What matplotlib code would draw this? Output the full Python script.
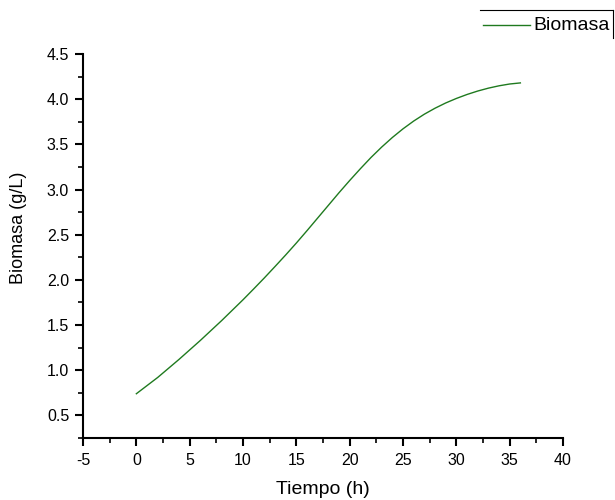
import matplotlib
matplotlib.use("Agg")
import matplotlib.pyplot as plt
from matplotlib.ticker import MultipleLocator
from matplotlib.lines import Line2D

plt.rcParams['font.family'] = ['Liberation Sans', 'DejaVu Sans']

tiempo = [0, 1, 2, 3, 4, 5, 6, 7, 8, 9, 10, 11, 12, 13, 14, 15, 16, 17, 18,
          19, 20, 21, 22, 23, 24, 25, 26, 27, 28, 29, 30, 31, 32, 33, 34, 35, 36]
biomasa = [0.740, 0.830, 0.920, 1.020, 1.120, 1.225, 1.330, 1.440, 1.550,
           1.665, 1.780, 1.900, 2.022, 2.148, 2.276, 2.408, 2.545, 2.685,
           2.825, 2.965, 3.100, 3.230, 3.355, 3.470, 3.576, 3.672, 3.758,
           3.834, 3.900, 3.958, 4.008, 4.052, 4.090, 4.122, 4.148, 4.168, 4.180]

xticks = [-5, 0, 5, 10, 15, 20, 25, 30, 35, 40]
yticks = [0.5, 1.0, 1.5, 2.0, 2.5, 3.0, 3.5, 4.0, 4.5]

fig = plt.figure(figsize=(6.15, 5.0), dpi=100)
ax = fig.add_axes([0.135, 0.124, 0.7805, 0.768])
line, = ax.plot(tiempo, biomasa, color='#1f7a1f', lw=1.0)

ax.set_xlim(-5, 40)
ax.set_ylim(0.25, 4.5)
ax.set_xticks(xticks)
ax.set_xticklabels([str(t) for t in xticks])
ax.set_yticks(yticks)
ax.set_yticklabels([f"{t:.1f}" for t in yticks])
ax.xaxis.set_minor_locator(MultipleLocator(2.5))
ax.yaxis.set_minor_locator(MultipleLocator(0.25))

for s in ['top', 'right']:
    ax.spines[s].set_visible(False)
for s in ['left', 'bottom']:
    ax.spines[s].set_linewidth(1.5)
ax.tick_params(which='major', direction='out', length=6, width=1.5, labelsize=11.5)
ax.tick_params(axis='x', which='major', pad=5)
ax.tick_params(axis='y', which='major', pad=4)
ax.tick_params(which='minor', direction='out', length=3.5, width=1.2)

ax.set_xlabel('Tiempo (h)', fontsize=14, labelpad=9)
ax.set_ylabel('Biomasa (g/L)', fontsize=13, labelpad=14, y=0.547)

# legend box (partially visible frame: top and right)
fig.add_artist(Line2D([480/615, 613/615], [1-10/500, 1-10/500], color='black', lw=0.8, transform=fig.transFigure))
fig.add_artist(Line2D([613/615, 613/615], [1-10/500, 1-38/500], color='black', lw=0.8, transform=fig.transFigure))
fig.add_artist(Line2D([483/615, 530/615], [1-25/500, 1-25/500], color='#1f7a1f', lw=1.0, transform=fig.transFigure))
fig.text(533/615, 1-25/500, 'Biomasa', fontsize=14, va='center', ha='left')

fig.savefig('out.png', dpi=100)
